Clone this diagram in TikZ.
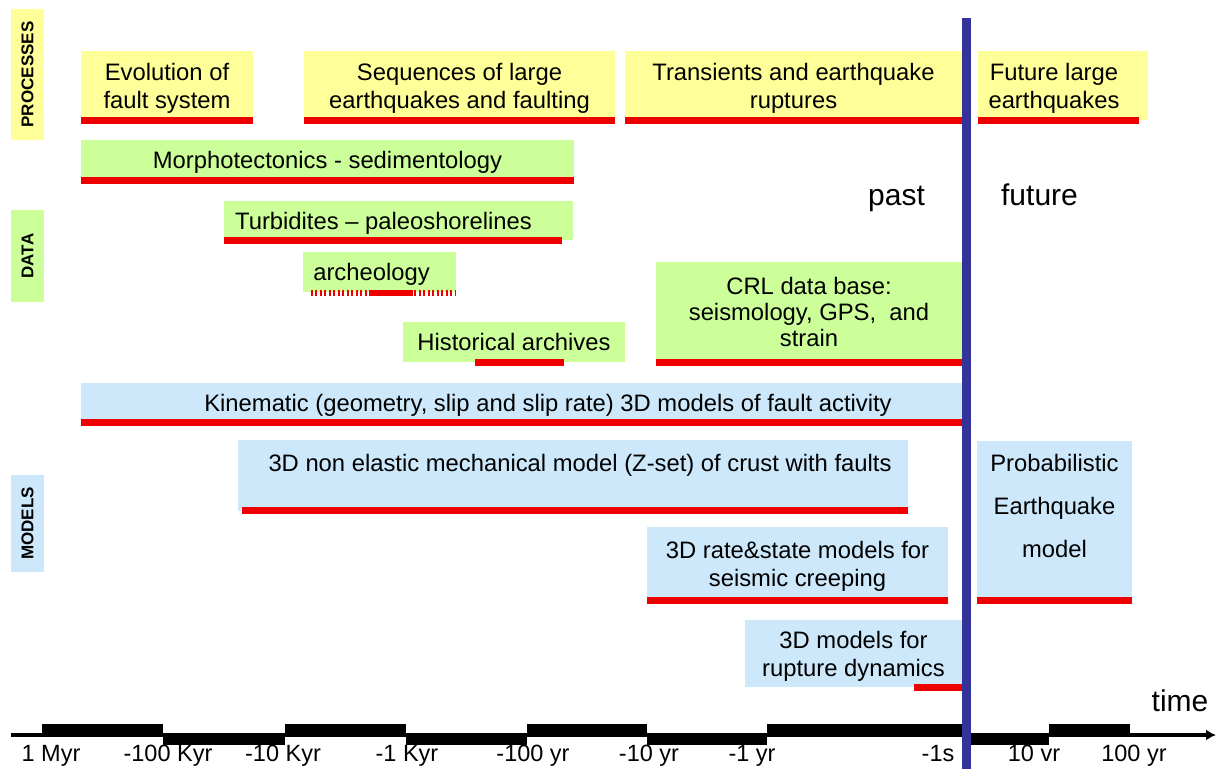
\documentclass[tikz,border=0pt]{standalone}
\usepackage{fontspec}
\setmainfont{Liberation Sans}
\usetikzlibrary{calc}
\usetikzlibrary{arrows.meta}
\usepackage{xcolor}

\definecolor{procyellow}{RGB}{255,255,153}
\definecolor{datagreen}{RGB}{204,255,153}
\definecolor{modelblue}{RGB}{204,232,250}
\definecolor{barred}{RGB}{238,0,0}
\definecolor{nowblue}{RGB}{51,51,153}

\begin{document}
\begin{tikzpicture}[x=1pt, y=-1pt]
        % ================= 样式定义 =================
        \tikzset{
            % 方框: 无边框, 浅色底, 文字居中 (稍微偏下)
            box/.style={draw=none, inner sep=0pt, align=center, text depth=-2pt, font=\fontsize{23.8}{28}\selectfont},
            procbox/.style={box, fill=procyellow},
            databox/.style={box, fill=datagreen},
            modelbox/.style={box, fill=modelblue},
            % 左侧竖排标签
            sidelabel/.style={rotate=90, inner sep=0pt, minimum height=33pt, font=\fontsize{17}{20}\selectfont\bfseries},
            % 红色时间条
            redbar/.style={draw=barred, line width=7pt},
            % 时间轴上的刻度文字
            ticklabel/.style={anchor=base, font=\fontsize{23.5}{28}\selectfont},
            bigword/.style={anchor=base, font=\fontsize{30}{36}\selectfont}
        }

        \useasboundingbox (0,0) rectangle (1217,769);

        % ================= 左侧标签 =================
        \node[sidelabel, fill=procyellow, minimum width=131pt] (sideproc) at (27.5,74.5) {PROCESSES};
        \node[sidelabel, fill=datagreen, minimum width=92pt] (sidedata) at (27.5,256) {DATA};
        \node[sidelabel, fill=modelblue, minimum width=97pt] (sidemodel) at (27.5,523.5) {MODELS};

        % ================= PROCESSES =================
        \node[procbox, minimum width=172pt, minimum height=69pt] (evo) at (167,85.5) {Evolution of\\fault system};
        \node[procbox, minimum width=311pt, minimum height=69pt] (seq) at (459.5,85.5) {Sequences of large\\earthquakes and faulting};
        \node[procbox, minimum width=337pt, minimum height=69pt] (trans) at (793.5,85.5) {Transients and earthquake\\ruptures};
        % 文字略偏左
        \node[procbox, minimum width=170pt, minimum height=69pt] (fut) at (1063,85.5) {Future large\hspace*{18pt}\null\\earthquakes\hspace*{18pt}\null};

        \draw[redbar] (evo.south west) -- (evo.south east);
        \draw[redbar] (seq.south west) -- (seq.south east);
        \draw[redbar] (trans.south west) -- (trans.south east);
        \draw[redbar] (fut.south west) -- ($(fut.south east)+(-9,0)$);

        % ================= DATA =================
        \node[databox, minimum width=493pt, minimum height=40pt] (morph) at (327.5,160) {Morphotectonics - sedimentology};
        \node[databox, minimum width=349pt, minimum height=39pt] (turb) at (398.5,220.5) {Turbidites – paleoshorelines\hspace*{30pt}\null};
        \node[databox, minimum width=153pt, minimum height=40pt] (arch) at (379.5,272) {archeology\hspace*{16pt}\null};
        \node[databox, minimum width=222pt, minimum height=40pt] (hist) at (514,342) {Historical archives};
        \node[databox, font=\fontsize{23.8}{26}\selectfont, minimum width=306pt, minimum height=100pt] (crl) at (809,312) {CRL data base:\\seismology, GPS,\ \ and\\strain};

        \draw[redbar] (morph.south west) -- (morph.south east);
        \draw[redbar] (turb.south west) -- ($(turb.south east)+(-11,0)$);
        % 考古: 虚线 + 中间一段实线
        \draw[redbar, line width=6pt, dash pattern=on 2pt off 2.5pt] ($(arch.south west)+(8,1)$) -- ($(arch.south east)+(-1,1)$);
        \draw[redbar, line width=6pt] ($(arch.south west)+(67,1)$) -- ($(arch.south west)+(110,1)$);
        \draw[redbar] ($(hist.south west)+(72,0)$) -- ($(hist.south east)+(-61,0)$);
        \draw[redbar] (crl.south west) -- (crl.south east);

        % ================= MODELS =================
        % 文字略偏右
        \node[modelbox, minimum width=881pt, minimum height=39pt] (kin) at (521.5,402.5) {\hspace*{53pt}Kinematic (geometry, slip and slip rate) 3D models of fault activity};
        % 文字靠上
        \node[modelbox, minimum width=670pt, minimum height=71pt, text height=17pt, text depth=24pt] (nonel) at (573,475) {\hspace*{14pt}3D non elastic mechanical model (Z-set) of crust with faults};
        \node[modelbox, font=\fontsize{23.8}{43}\selectfont, minimum width=155pt, minimum height=159pt, text depth=30pt] (prob) at (1054.5,520.5) {Probabilistic\\Earthquake\\model};
        \node[modelbox, minimum width=301pt, minimum height=73pt] (rate) at (797.5,563.5) {3D rate\&state models for\\seismic creeping};
        \node[modelbox, minimum width=217pt, minimum height=67pt] (rupt) at (853.5,653.5) {3D models for\\rupture dynamics};

        \draw[redbar] (kin.south west) -- (kin.south east);
        \draw[redbar] ($(nonel.south west)+(4,0)$) -- (nonel.south east);
        \draw[redbar] (prob.south west) -- (prob.south east);
        \draw[redbar] (rate.south west) -- (rate.south east);
        \draw[redbar] ($(rupt.south east)+(-48,0)$) -- (rupt.south east);

        % ================= 文字 =================
        \node[bigword] (past) at (896.5,205) {past};
        \node[bigword] (future) at (1039.5,205) {future};
        \node[bigword] (time) at (1180,711) {time};

        % ================= 时间轴 =================
        \coordinate (axstart) at (11,735);
        \coordinate (axend) at (1216,735);
        \draw[line width=4pt, -{Latex[length=10pt,width=11pt]}] (axstart) -- (axend);

        % 黑色块, 上下交替
        \fill (41.5,724) rectangle (163,737);
        \fill (163,733) rectangle (285,745);
        \fill (285,724) rectangle (406,737);
        \fill (406,733) rectangle (527,745);
        \fill (527,724) rectangle (647,737);
        \fill (647,733) rectangle (767,745);
        \fill (767,724) rectangle (962,737);
        \fill (962,733) rectangle (1049,745);
        \fill (1049,724) rectangle (1130,737);

        \node[ticklabel] (t1) at (51,761) {1 Myr};
        \node[ticklabel] (t2) at (168,761) {-100 Kyr};
        \node[ticklabel] (t3) at (283,761) {-10 Kyr};
        \node[ticklabel] (t4) at (407,761) {-1 Kyr};
        \node[ticklabel] (t5) at (533,761) {-100 yr};
        \node[ticklabel] (t6) at (649,761) {-10 yr};
        \node[ticklabel] (t7) at (752,761) {-1 yr};
        \node[ticklabel] (t8) at (938,761) {-1s};
        \node[ticklabel] (t9) at (1034,761) {10 vr};
        \node[ticklabel] (t10) at (1134,761) {100 yr};

        % 现在: 蓝色竖线 (画在最上层)
        \coordinate (nowtop) at (966.5,18);
        \coordinate (nowbot) at (966.5,769);
        \draw[nowblue, line width=9pt] (nowtop) -- (nowbot);

    \end{tikzpicture}
\end{document}
